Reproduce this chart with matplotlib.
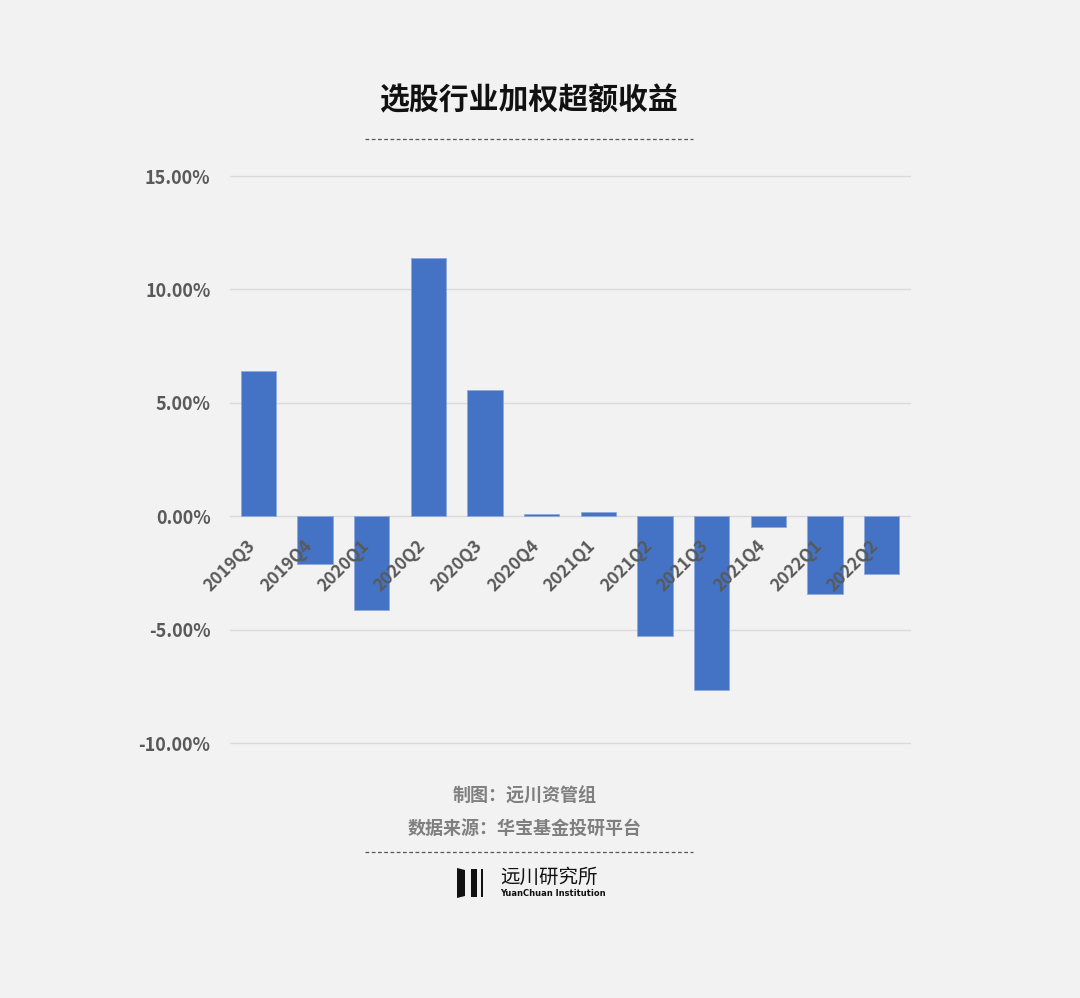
import matplotlib.pyplot as plt
from matplotlib.patches import Polygon

plt.rcParams['font.family'] = ['Noto Sans CJK SC', 'DejaVu Sans']

# 季度与超额收益（%）
quarters = ['2019Q3', '2019Q4', '2020Q1', '2020Q2', '2020Q3', '2020Q4',
            '2021Q1', '2021Q2', '2021Q3', '2021Q4', '2022Q1', '2022Q2']
excess_returns = [6.40, -2.12, -4.12, 11.38, 5.56, 0.08,
                  0.18, -5.29, -7.68, -0.49, -3.44, -2.56]
y_ticks = [-10, -5, 0, 5, 10, 15]

bg = '#f2f2f2'
fig = plt.figure(figsize=(10.8, 9.98), dpi=100, facecolor=bg)
ax = fig.add_axes([0.213, 0.2555, 0.6296, 0.5681], facecolor=bg)

x = list(range(len(quarters)))
ax.bar(x, excess_returns, width=0.62, color='#4472c4', edgecolor='#8faadc',
       linewidth=0.6, zorder=3)

ax.set_xlim(-0.5, len(quarters) - 0.5)
ax.set_ylim(-10, 15)
ax.set_yticks(y_ticks)
ax.set_yticklabels([f'{v:.2f}%' for v in y_ticks], fontsize=13,
                   fontweight='bold', color='#595959')
ax.tick_params(axis='y', length=0, pad=14)
ax.set_xticks([])
ax.grid(axis='y', color='#d9d9d9', linewidth=1, zorder=0)
for gl in ax.get_ygridlines():
    gl.set_clip_on(False)
for s in ax.spines.values():
    s.set_visible(False)

# 类目标签放在零轴附近
for i, q in enumerate(quarters):
    ax.annotate(q, xy=(i, 0), xytext=(-4, -19), textcoords='offset points',
                rotation=45, ha='right', va='center', rotation_mode='anchor',
                fontsize=12.5, fontweight='bold', color='#595959', zorder=4)

# 标题与分隔线
fig.text(528 / 1080, 1 - 100 / 998, '选股行业加权超额收益', ha='center',
         va='center', fontsize=21.5, fontweight='bold', color='#111111')
for yy in (139, 852):
    fig.add_artist(plt.Line2D([365 / 1080, 693 / 1080], [1 - yy / 998] * 2,
                              color='#555555', linewidth=0.9,
                              linestyle=(0, (3, 2))))

fig.text(525 / 1080, 1 - 796 / 998, '制图：远川资管组', ha='center',
         va='center', fontsize=13, fontweight='bold', color='#7f7f7f')
fig.text(525 / 1080, 1 - 828 / 998, '数据来源：华宝基金投研平台', ha='center',
         va='center', fontsize=13, fontweight='bold', color='#7f7f7f')

# 远川 logo
def px(xp, yp):
    return (xp / 1080, 1 - yp / 998)

logo_marks = [
    [px(457, 868), px(465, 870), px(465, 896), px(457, 898)],
    [px(471, 869), px(477, 869), px(477, 897), px(471, 897)],
    [px(481, 869), px(483, 869), px(483, 897), px(481, 897)],
]
for pts in logo_marks:
    fig.add_artist(Polygon(pts, closed=True, facecolor='#111111',
                           edgecolor='none', transform=fig.transFigure))
fig.text(500 / 1080, 1 - 877 / 998, '远川研究所', ha='left', va='center',
         fontsize=14, color='#111111')
fig.text(500 / 1080, 1 - 893 / 998, 'YuanChuan Institution', ha='left',
         va='center', fontsize=6, fontweight='bold', color='#111111',
         family=['DejaVu Sans'])

fig.savefig('out.png', dpi=100, facecolor=bg)
